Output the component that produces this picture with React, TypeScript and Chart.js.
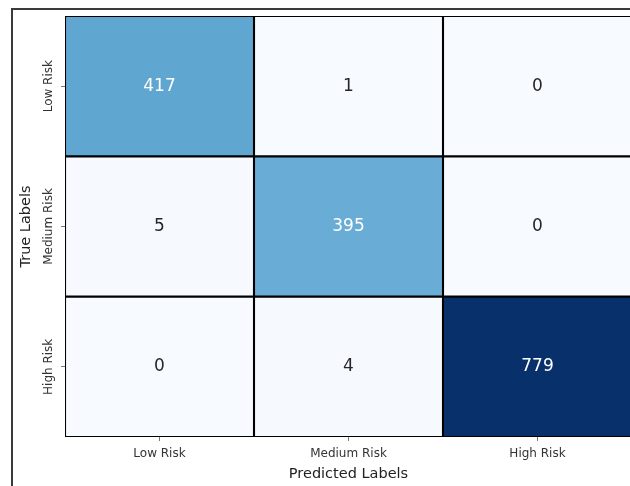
import { useEffect, useRef } from "react";
import { Chart, registerables } from "chart.js";

Chart.register(...registerables);

// Confusion matrix: rows are true labels, columns are predicted labels
const trueLabels = ["Low Risk", "Medium Risk", "High Risk"];
const predictedLabels = ["Low Risk", "Medium Risk", "High Risk"];
const lowRiskRow = [417, 1, 0];
const mediumRiskRow = [5, 395, 0];
const highRiskRow = [0, 4, 779];
const confusionRows = [lowRiskRow, mediumRiskRow, highRiskRow];

const xTitle = "Predicted Labels";
const yTitle = "True Labels";

const FONT = "'DejaVu Sans', sans-serif";

// Sequential "Blues" colour stops
const bluesStops = [
  "#f7fbff",
  "#deebf7",
  "#c6dbef",
  "#9ecae1",
  "#6baed6",
  "#4292c6",
  "#2171b5",
  "#08519c",
  "#08306b",
];

function hexToRgb(hex: string): number[] {
  const n = parseInt(hex.slice(1), 16);
  return [(n >> 16) & 255, (n >> 8) & 255, n & 255];
}

function bluesRgb(t: number): number[] {
  const c = Math.max(0, Math.min(1, t));
  const pos = c * (bluesStops.length - 1);
  const i = Math.min(Math.floor(pos), bluesStops.length - 2);
  const f = pos - i;
  const a = hexToRgb(bluesStops[i]);
  const b = hexToRgb(bluesStops[i + 1]);
  return a.map((v, k) => v + (b[k] - v) * f);
}

function luminance(rgb: number[]): number {
  const lin = rgb.map((v) => {
    const s = v / 255;
    return s <= 0.03928 ? s / 12.92 : Math.pow((s + 0.055) / 1.055, 2.4);
  });
  return 0.2126 * lin[0] + 0.7152 * lin[1] + 0.0722 * lin[2];
}

const vmax = Math.max(...confusionRows.flat());

// Writes the count in the middle of every cell
const cellValuePlugin = {
  id: "cellValues",
  afterDatasetsDraw(chart: any) {
    const { ctx } = chart;
    ctx.save();
    ctx.font = `17px ${FONT}`;
    ctx.textAlign = "center";
    ctx.textBaseline = "middle";
    chart.data.datasets.forEach((ds: any, di: number) => {
      const meta = chart.getDatasetMeta(di);
      meta.data.forEach((el: any, j: number) => {
        const value = ds.counts[j];
        const rgb = bluesRgb(value / vmax);
        ctx.fillStyle = luminance(rgb) > 0.408 ? "#262626" : "#ffffff";
        const p = el.getCenterPoint();
        ctx.fillText(String(value), p.x, p.y);
      });
    });
    ctx.restore();
  },
};

export default function App() {
  const canvasRef = useRef<HTMLCanvasElement | null>(null);

  useEffect(() => {
    const canvas = canvasRef.current;
    if (!canvas) return;

    // stacked from the bottom: last true label first
    const datasets = trueLabels
      .map((label, r) => ({
        label,
        counts: confusionRows[r],
        data: predictedLabels.map(() => 1),
        backgroundColor: confusionRows[r].map((v) => {
          const [R, G, B] = bluesRgb(v / vmax);
          return `rgb(${Math.round(R)}, ${Math.round(G)}, ${Math.round(B)})`;
        }),
        borderColor: "#000000",
        borderWidth: 1.4,
        borderSkipped: false,
        barPercentage: 1,
        categoryPercentage: 1,
      }))
      .reverse();

    const chart = new Chart(canvas, {
      type: "bar",
      data: { labels: predictedLabels, datasets: datasets as any },
      options: {
        animation: false,
        responsive: false,
        devicePixelRatio: 1,
        layout: { padding: { left: 0, top: 16, right: 8, bottom: 0 } },
        plugins: {
          legend: { display: false },
          tooltip: { enabled: false },
        },
        scales: {
          x: {
            stacked: true,
            offset: true,
            grid: {
              offset: false,
              drawOnChartArea: false,
              drawTicks: true,
              tickLength: 4,
              color: "#777777",
            },
            border: { display: false },
            ticks: {
              font: { family: FONT, size: 12 },
              color: "#333333",
              padding: 6,
              minRotation: 0,
              maxRotation: 0,
            },
            title: {
              display: true,
              text: xTitle,
              font: { family: FONT, size: 14.5 },
              color: "#222222",
              padding: { top: 0, bottom: 3 },
            },
            afterFit: (s: any) => {
              s.height = 49;
            },
          },
          y: {
            stacked: true,
            min: 0,
            max: trueLabels.length,
            afterBuildTicks: (s: any) => {
              s.ticks = trueLabels.map((_, i) => ({ value: trueLabels.length - i - 0.5 }));
            },
            grid: {
              drawOnChartArea: false,
              drawTicks: true,
              tickLength: 4,
              color: "#777777",
            },
            border: { display: false },
            ticks: {
              font: { family: FONT, size: 12 },
              color: "#333333",
              minRotation: 90,
              maxRotation: 90,
              crossAlign: "center",
              padding: -26,
              callback: (value: any) => {
                const idx = trueLabels.length - 1 - Math.floor(Number(value));
                return trueLabels[idx];
              },
            },
            title: {
              display: true,
              text: yTitle,
              font: { family: FONT, size: 14.5 },
              color: "#222222",
              padding: { top: 18, bottom: 0 },
            },
            afterFit: (s: any) => {
              s.width = 65;
            },
          },
        },
      },
      plugins: [cellValuePlugin],
    });

    return () => chart.destroy();
  }, []);

  return (
    <div
      style={{
        position: "absolute",
        left: 0,
        top: 0,
        width: 630,
        height: 486,
        overflow: "hidden",
        background: "#ffffff",
      }}
    >
      <div
        style={{
          position: "absolute",
          left: 11,
          top: 8,
          width: 640,
          height: 500,
          borderLeft: "2px solid #3a3a3a",
          borderTop: "2px solid #3a3a3a",
        }}
      />
      <canvas
        ref={canvasRef}
        width={640}
        height={486}
        style={{ position: "absolute", left: 0, top: 0, display: "block" }}
      />
    </div>
  );
}
